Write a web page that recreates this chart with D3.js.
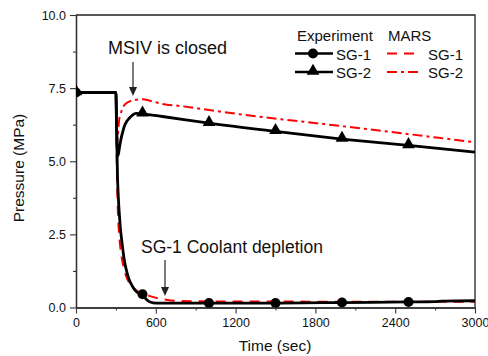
<!DOCTYPE html>
<html>
<head>
<meta charset="utf-8">
<script src="https://cdn.jsdelivr.net/npm/d3@7"></script>
<style>
  html, body { margin: 0; padding: 0; background: #fff; }
  svg { display: block; font-family: "Liberation Sans", Arial, sans-serif; }
</style>
</head>
<body>
<svg id="chart" width="488" height="356"></svg>
<script>
// Experiment, SG-1 (circles)
const expSG1Time = [0, 300, 304, 308, 312, 318, 325, 332, 345, 362, 380, 400, 425, 450, 475, 500, 525, 550, 580, 620, 700, 1000, 1500, 2000, 2500, 2700, 2750, 3000];
const expSG1 = [7.35, 7.35, 6.6, 5.4, 4.5, 3.8, 3.25, 2.8, 2.25, 1.65, 1.25, 0.95, 0.72, 0.56, 0.48, 0.43, 0.3, 0.2, 0.16, 0.15, 0.15, 0.15, 0.15, 0.17, 0.19, 0.2, 0.22, 0.23];
// Experiment, SG-2 (triangles)
const expSG2Time = [0, 300, 304, 310, 317, 325, 337, 350, 362, 380, 400, 425, 450, 500, 650, 1000, 1500, 2000, 2500, 3000];
const expSG2 = [7.35, 7.35, 6.4, 5.5, 5.2, 5.42, 5.73, 5.98, 6.18, 6.35, 6.47, 6.58, 6.64, 6.62, 6.53, 6.3, 6.02, 5.76, 5.54, 5.31];
// MARS calculation, SG-1
const marsSG1Time = [0, 300, 303, 307, 312, 320, 332, 348, 365, 385, 410, 450, 500, 563, 620, 688, 800, 1000, 2000, 3000];
const marsSG1 = [7.35, 7.35, 6.2, 4.8, 3.7, 2.8, 2.1, 1.6, 1.25, 0.98, 0.78, 0.6, 0.48, 0.38, 0.31, 0.26, 0.22, 0.21, 0.2, 0.2];
// MARS calculation, SG-2
const marsSG2Time = [0, 300, 303, 306, 309, 314, 324, 335, 349, 370, 400, 450, 500, 563, 651, 800, 1000, 1229, 2000, 3000];
const marsSG2 = [7.35, 7.35, 6.8, 6.1, 5.65, 5.85, 6.4, 6.6, 6.81, 6.95, 7.04, 7.1, 7.12, 7.06, 6.96, 6.88, 6.75, 6.61, 6.2, 5.65];
// Marker positions for the experiment series
const markerTimes = [0, 500, 1000, 1500, 2000, 2500];
const sg1Markers = [7.35, 0.45, 0.15, 0.15, 0.17, 0.19];
const sg2Markers = [7.35, 6.62, 6.3, 6.02, 5.76, 5.54];
// Axis ticks
const xTicks = [0, 600, 1200, 1800, 2400, 3000];
const xMinor = [300, 900, 1500, 2100, 2700];
const yTicks = [0, 2.5, 5.0, 7.5, 10.0];
const yMinor = [1.25, 3.75, 6.25, 8.75];

const svg = d3.select("#chart");
const L = 76, R = 475, T = 15, B = 307.5;
const x = d3.scaleLinear().domain([0, 3000]).range([L, R]);
const y = d3.scaleLinear().domain([0, 10]).range([B, T]);

svg.append("defs").append("clipPath").attr("id", "plotClip")
  .append("rect").attr("x", L).attr("y", T).attr("width", R - L).attr("height", B - T);

// frame (top and right)
svg.append("path")
  .attr("d", `M${L},${T}H${R}V${B}`)
  .attr("fill", "none").attr("stroke", "#222").attr("stroke-width", 1.3);

// axes
const axisColor = "#333";
const xAxis = svg.append("g").attr("transform", `translate(0,${B})`)
  .call(d3.axisBottom(x).tickValues(xTicks).tickSizeOuter(0).tickSizeInner(6).tickPadding(5).tickFormat(d3.format("d")));
const xAxisMinor = svg.append("g").attr("transform", `translate(0,${B})`)
  .call(d3.axisBottom(x).tickValues(xMinor).tickSizeOuter(0).tickSizeInner(3).tickFormat(""));
const yAxis = svg.append("g").attr("transform", `translate(${L},0)`)
  .call(d3.axisLeft(y).tickValues(yTicks).tickSizeOuter(0).tickSizeInner(6).tickPadding(4).tickFormat(d3.format(".1f")));
const yAxisMinor = svg.append("g").attr("transform", `translate(${L},0)`)
  .call(d3.axisLeft(y).tickValues(yMinor).tickSizeOuter(0).tickSizeInner(3).tickFormat(""));
[xAxis, xAxisMinor, yAxis, yAxisMinor].forEach(g => {
  g.select(".domain").attr("stroke", axisColor).attr("stroke-width", 1.3);
  g.selectAll(".tick line").attr("stroke", axisColor).attr("stroke-width", 1.1);
  g.selectAll(".tick text").attr("fill", "#111").style("font-size", "12.5px")
    .style("font-family", '"Liberation Sans", Arial, sans-serif');
});

// axis titles
svg.append("text").attr("x", 275).attr("y", 351).attr("text-anchor", "middle")
  .style("font-size", "15.5px").attr("fill", "#111").text("Time (sec)");
svg.append("text").attr("transform", "translate(24,168) rotate(-90)").attr("text-anchor", "middle")
  .style("font-size", "15.5px").attr("fill", "#111").text("Pressure (MPa)");

const plot = svg.append("g").attr("clip-path", "url(#plotClip)");
const line = d3.line().x(d => x(d[0])).y(d => y(d[1])).curve(d3.curveMonotoneX);
const zip = (t, v) => t.map((ti, i) => [ti, v[i]]);

// MARS curves (red)
plot.append("path").datum(zip(marsSG1Time, marsSG1)).attr("d", line)
  .attr("fill", "none").attr("stroke", "#ff0000").attr("stroke-width", 2)
  .attr("stroke-dasharray", "10,7");
plot.append("path").datum(zip(marsSG2Time, marsSG2)).attr("d", line)
  .attr("fill", "none").attr("stroke", "#ff0000").attr("stroke-width", 2)
  .attr("stroke-dasharray", "10,4,3,4");

// Experiment curves (black)
plot.append("path").datum(zip(expSG2Time, expSG2)).attr("d", line)
  .attr("fill", "none").attr("stroke", "#000").attr("stroke-width", 2.8);
plot.append("path").datum(zip(expSG1Time, expSG1)).attr("d", line)
  .attr("fill", "none").attr("stroke", "#000").attr("stroke-width", 2.8);

const tri = d3.symbol().type(d3.symbolTriangle).size(70);
plot.selectAll(".tri").data(zip(markerTimes, sg2Markers)).join("path")
  .attr("transform", d => `translate(${x(d[0])},${y(d[1]) - 1})`).attr("d", tri).attr("fill", "#000");
plot.selectAll(".dot").data(zip(markerTimes, sg1Markers)).join("circle")
  .attr("cx", d => x(d[0])).attr("cy", d => y(d[1])).attr("r", 5).attr("fill", "#000");

// annotations
function arrow(xp, y0, y1) {
  svg.append("line").attr("x1", xp).attr("x2", xp).attr("y1", y0).attr("y2", y1 - 7)
    .attr("stroke", "#222").attr("stroke-width", 1.2);
  svg.append("path").attr("d", `M${xp - 4},${y1 - 9}L${xp + 4},${y1 - 9}L${xp},${y1}Z`).attr("fill", "#222");
}
svg.append("text").attr("x", 108).attr("y", 54).style("font-size", "18px").attr("fill", "#111").text("MSIV is closed");
arrow(133, 62, 96);
svg.append("text").attr("x", 141).attr("y", 253).style("font-size", "17.5px").attr("fill", "#111").text("SG-1 Coolant depletion");
arrow(165, 260, 296);

// legend
const lg = svg.append("g").style("font-size", "15px").attr("fill", "#111");
lg.append("text").attr("x", 297).attr("y", 41).text("Experiment");
lg.append("text").attr("x", 388).attr("y", 41).text("MARS");
const rows = [{ y: 53.5, label: "SG-1", dash: "10,7", marker: "circle" },
              { y: 72, label: "SG-2", dash: "10,4,3,4", marker: "triangle" }];
rows.forEach(r => {
  lg.append("line").attr("x1", 295).attr("x2", 333).attr("y1", r.y).attr("y2", r.y)
    .attr("stroke", "#000").attr("stroke-width", 2.5);
  if (r.marker === "circle") {
    lg.append("circle").attr("cx", 313).attr("cy", r.y).attr("r", 5).attr("fill", "#000");
  } else {
    lg.append("path").attr("transform", `translate(313,${r.y - 1})`).attr("d", tri).attr("fill", "#000");
  }
  lg.append("text").attr("x", 336).attr("y", r.y + 6).text(r.label);
  lg.append("line").attr("x1", 387).attr("x2", 421).attr("y1", r.y).attr("y2", r.y)
    .attr("stroke", "#ff0000").attr("stroke-width", 2).attr("stroke-dasharray", r.dash);
  lg.append("text").attr("x", 428).attr("y", r.y + 6).text(r.label);
});
</script>
</body>
</html>
